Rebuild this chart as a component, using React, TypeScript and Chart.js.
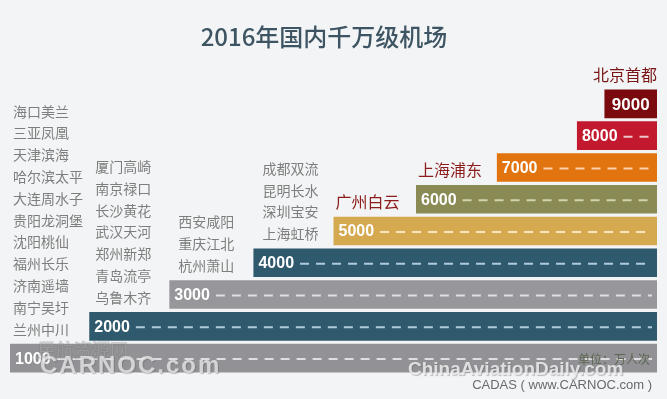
import React, { useEffect, useRef } from 'react';
import { Chart, registerables } from 'chart.js';

Chart.register(...registerables);

// ---- data ----
const levels = ['9000', '8000', '7000', '6000', '5000', '4000', '3000', '2000', '1000'];
const barStarts = [7350, 7010, 6020, 5020, 4000, 3010, 1970, 980, 0];
const barEnd = 8000;
const airports: string[][] = [
  ['北京首都'],
  [],
  [],
  ['上海浦东'],
  ['广州白云'],
  ['成都双流', '昆明长水', '深圳宝安', '上海虹桥'],
  ['西安咸阳', '重庆江北', '杭州萧山'],
  ['厦门高崎', '南京禄口', '长沙黄花', '武汉天河', '郑州新郑', '青岛流亭', '乌鲁木齐'],
  ['海口美兰', '三亚凤凰', '天津滨海', '哈尔滨太平', '大连周水子', '贵阳龙洞堡', '沈阳桃仙', '福州长乐', '济南遥墙', '南宁吴圩', '兰州中川'],
];
const featured = ['北京首都', '上海浦东', '广州白云'];

// ---- styles ----
const barColors = ['#7b0a0f', '#c2192e', '#e1740f', '#8a8a55', '#d5a950', '#2f5a6e', '#97979b', '#2f5a6e', '#929296'];
const dashColors = ['#fff', 'rgba(255,255,255,0.75)', 'rgba(255,225,200,0.85)', 'rgba(235,235,200,0.75)', 'rgba(255,240,210,0.85)', 'rgba(190,215,228,0.9)', 'rgba(235,235,238,0.85)', 'rgba(190,215,228,0.9)', 'rgba(235,235,238,0.85)'];
const nameIndent: Record<string, number> = { '1000': 3, '2000': 6, '3000': 9, '4000': 9 };
const BG = '#f3f4f5';
const CJK = '"Noto Sans CJK SC", "Noto Sans", sans-serif';
const LAT = '"Liberation Sans", Arial, sans-serif';

const overlay = {
  id: 'overlay',
  beforeDraw(chart: any) {
    const ctx = chart.ctx;
    ctx.save();
    ctx.fillStyle = BG;
    ctx.fillRect(0, 0, chart.width, chart.height);
    // title
    ctx.fillStyle = '#3d5563';
    ctx.font = `500 24px ${CJK}`;
    ctx.textAlign = 'center';
    ctx.textBaseline = 'middle';
    ctx.fillText('2016年国内千万级机场', 324, 37);
    ctx.restore();
  },
  afterDatasetsDraw(chart: any) {
    const ctx = chart.ctx;
    const meta = chart.getDatasetMeta(0);
    meta.data.forEach((el: any, i: number) => {
      const p = el.getProps(['x', 'y', 'base', 'height'], true);
      const left = Math.min(p.x, p.base);
      const right = Math.max(p.x, p.base);
      const top = p.y - p.height / 2;
      const label = levels[i];
      ctx.save();
      ctx.fillStyle = '#ffffff';
      ctx.textBaseline = 'middle';
      if (i === 0) {
        ctx.font = `bold 17px ${LAT}`;
        ctx.textAlign = 'center';
        ctx.fillText(label, (left + right) / 2, p.y + 1);
      } else {
        ctx.font = `bold 16px ${LAT}`;
        ctx.textAlign = 'left';
        const tx = left + 5;
        ctx.fillText(label, tx, p.y + 1);
        const tEnd = tx + ctx.measureText(label).width;
        ctx.setLineDash([9, 7]);
        ctx.lineWidth = 2;
        ctx.strokeStyle = dashColors[i];
        ctx.beginPath();
        ctx.moveTo(tEnd + 6, p.y + 1);
        ctx.lineTo(right - 5, p.y + 1);
        ctx.stroke();
        ctx.setLineDash([]);
      }
      // airport names
      const names = airports[i];
      const n = names.length;
      names.forEach((name, k) => {
        if (featured.includes(name)) {
          ctx.font = `16px ${CJK}`;
          ctx.fillStyle = i === 0 ? '#7a1616' : '#8c1d1d';
          if (i === 0) {
            ctx.textAlign = 'right';
            ctx.fillText(name, right, top - 15);
          } else {
            ctx.textAlign = 'left';
            ctx.fillText(name, left + 2, top - 15);
          }
        } else {
          ctx.font = `14px ${CJK}`;
          ctx.fillStyle = '#7e7e7e';
          ctx.textAlign = 'left';
          const y = top - 14.5 - (n - 1 - k) * 21.8;
          ctx.fillText(name, left + (nameIndent[label] ?? 6), y);
        }
      });
      ctx.restore();
    });
  },
  afterDraw(chart: any) {
    const ctx = chart.ctx;
    ctx.save();
    ctx.textBaseline = 'middle';
    // watermarks
    ctx.font = `18px ${CJK}`;
    ctx.textAlign = 'left';
    ctx.fillStyle = 'rgba(255,255,255,0.25)';
    ctx.strokeStyle = 'rgba(110,110,110,0.35)';
    ctx.lineWidth = 1;
    ctx.fillText('民航资源网', 38, 350);
    ctx.strokeText('民航资源网', 38, 350);
    ctx.font = `bold 24px ${LAT}`;
    ctx.shadowColor = 'rgba(90,90,90,0.45)';
    ctx.shadowOffsetX = 1;
    ctx.shadowOffsetY = 1;
    ctx.shadowBlur = 1;
    ctx.fillStyle = 'rgba(232,232,234,0.8)';
    (ctx as any).letterSpacing = '2px';
    ctx.fillText('CARNOC.com', 40, 366);
    (ctx as any).letterSpacing = '0px';
    ctx.font = `bold 19px ${LAT}`;
    ctx.fillStyle = 'rgba(238,238,240,0.85)';
    ctx.fillText('ChinaAviationDaily.com', 408, 370);
    ctx.shadowColor = 'transparent';
    // unit + source
    ctx.font = `12px ${CJK}`;
    ctx.textAlign = 'right';
    ctx.fillStyle = '#5b6751';
    ctx.fillText('单位：万人次', 650, 359);
    ctx.font = `13px ${LAT}`;
    ctx.fillStyle = '#6a6a6a';
    ctx.fillText('CADAS ( www.CARNOC.com )', 652, 385);
    ctx.restore();
  },
};

export default function App() {
  const ref = useRef<HTMLCanvasElement>(null);
  useEffect(() => {
    document.body.style.margin = '0';
    document.body.style.background = BG;
    if (!ref.current) return;
    const chart = new Chart(ref.current, {
      type: 'bar',
      data: {
        labels: levels,
        datasets: [
          {
            data: barStarts.map((s) => [s, barEnd]) as any,
            backgroundColor: barColors,
            borderWidth: 0,
            borderSkipped: false,
            categoryPercentage: 1,
            barPercentage: 0.9,
          },
        ],
      },
      options: {
        indexAxis: 'y',
        responsive: false,
        animation: false,
        layout: { padding: { left: 10, right: 10, top: 88, bottom: 25 } },
        scales: {
          x: { type: 'linear', min: 0, max: 8000, display: false },
          y: { type: 'category', display: false, offset: true },
        },
        plugins: {
          legend: { display: false },
          tooltip: { enabled: false },
          title: { display: false },
        },
      },
      plugins: [overlay],
    });
    return () => chart.destroy();
  }, []);
  return <canvas ref={ref} width={667} height={399} style={{ display: 'block' }} />;
}
